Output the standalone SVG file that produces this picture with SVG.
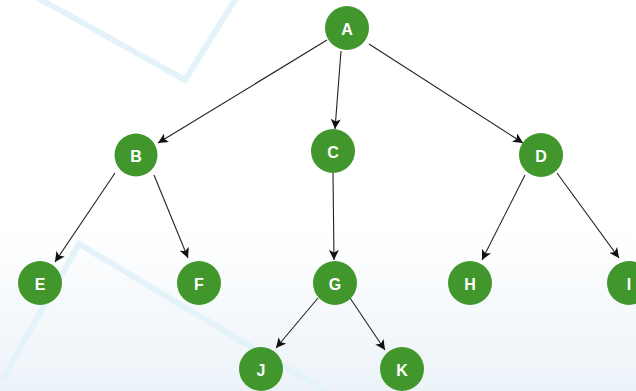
<svg xmlns="http://www.w3.org/2000/svg" width="636" height="391" viewBox="0 0 636 391">
<defs>
<linearGradient id="bg" x1="0" y1="0" x2="0" y2="1">
<stop offset="0" stop-color="#ffffff"/>
<stop offset="0.58" stop-color="#ffffff"/>
<stop offset="1" stop-color="#ecf3f8"/>
</linearGradient>
<marker id="arr" viewBox="0 0 10 10" refX="10" refY="5" markerWidth="10" markerHeight="10" markerUnits="userSpaceOnUse" orient="auto">
<path d="M0,0 L10,5 L0,10 L2.5,5 Z" fill="#111"/>
</marker>
<style>
.node circle{fill:#41962c;}
.node text{fill:#fff;font-family:"Liberation Sans",Arial,sans-serif;font-weight:bold;font-size:16px;text-anchor:middle;dominant-baseline:central;}
.edge{stroke:#222;stroke-width:1.1;fill:none;marker-end:url(#arr);}
.deco{stroke:#e4f2f9;stroke-width:6;fill:none;stroke-linejoin:miter;}
</style>
</defs>
<rect width="636" height="391" fill="url(#bg)"/>
<g id="decoration">
<polyline class="deco" points="38,-2 185,80 236,-2"/>
<polyline class="deco" points="2,380 79,244 330,394"/>
</g>
<g id="connectors">
<line class="edge" x1="327" y1="40" x2="158" y2="143"/>
<line class="edge" x1="341" y1="51" x2="335" y2="129"/>
<line class="edge" x1="369" y1="44" x2="523" y2="143"/>
<line class="edge" x1="115" y1="173" x2="55" y2="262"/>
<line class="edge" x1="154" y1="175" x2="188" y2="258"/>
<line class="edge" x1="333" y1="173" x2="334" y2="260"/>
<line class="edge" x1="525" y1="175" x2="482" y2="260"/>
<line class="edge" x1="557" y1="173" x2="619" y2="258"/>
<line class="edge" x1="318" y1="298" x2="276" y2="348"/>
<line class="edge" x1="350" y1="298" x2="385" y2="350"/>
</g>
<g id="node-A" class="node"><circle cx="347" cy="28" r="22"/><text x="347" y="29">A</text></g>
<g id="node-B" class="node"><circle cx="136" cy="155" r="21.5"/><text x="136" y="156">B</text></g>
<g id="node-C" class="node"><circle cx="333" cy="151" r="22"/><text x="333" y="152">C</text></g>
<g id="node-D" class="node"><circle cx="541" cy="155" r="22"/><text x="541" y="156">D</text></g>
<g id="node-E" class="node"><circle cx="40" cy="283" r="22"/><text x="40" y="284">E</text></g>
<g id="node-F" class="node"><circle cx="199" cy="283" r="22"/><text x="199" y="284">F</text></g>
<g id="node-G" class="node"><circle cx="335" cy="283" r="22"/><text x="335" y="284">G</text></g>
<g id="node-H" class="node"><circle cx="470" cy="283" r="22"/><text x="470" y="284">H</text></g>
<g id="node-I" class="node"><circle cx="629" cy="283" r="22"/><text x="629" y="284">I</text></g>
<g id="node-J" class="node"><circle cx="261" cy="369" r="22"/><text x="261" y="370">J</text></g>
<g id="node-K" class="node"><circle cx="402" cy="369" r="22"/><text x="402" y="370">K</text></g>
</svg>
